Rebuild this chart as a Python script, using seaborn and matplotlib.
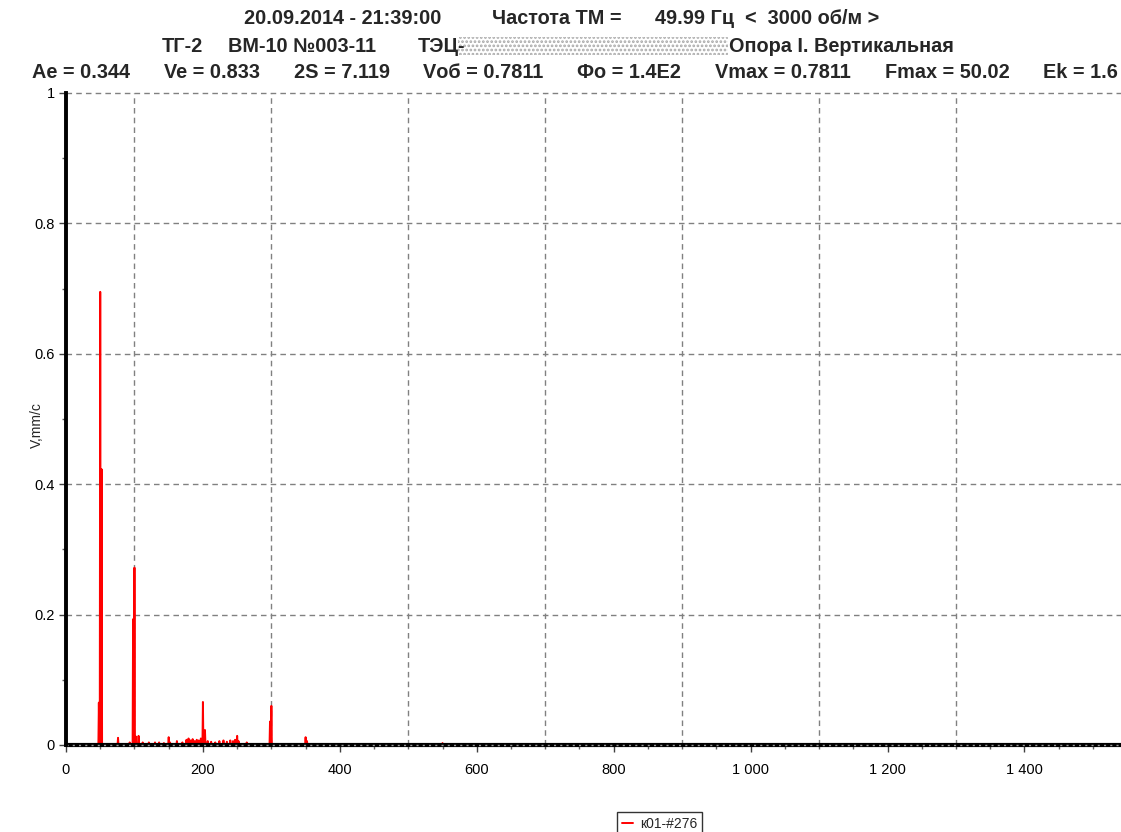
import matplotlib
matplotlib.use("Agg")
import matplotlib.pyplot as plt
import matplotlib.ticker as mticker
from matplotlib.patches import Rectangle
import seaborn as sns
import pandas as pd

# Spectral lines: frequency (Hz) and velocity amplitude (mm/s)
line_freq = [48, 50, 52, 76, 93, 98, 100, 102, 106, 112, 121, 130, 136, 143,
             150, 152, 162, 170, 176, 179, 182, 185, 188, 191, 194, 197,
             200, 203, 207, 212, 218, 224, 230, 235, 240, 244, 247, 250, 252,
             264, 298, 300, 350, 352, 550]
line_amp = [0.065, 0.695, 0.423, 0.011, 0.004, 0.193, 0.272, 0.013, 0.014, 0.004,
            0.004, 0.004, 0.004, 0.003,
            0.012, 0.004, 0.006, 0.004, 0.008, 0.010, 0.007, 0.009, 0.006, 0.008,
            0.007, 0.010,
            0.066, 0.023, 0.006, 0.005, 0.004, 0.006, 0.007, 0.005, 0.007, 0.006,
            0.008, 0.014, 0.006,
            0.004, 0.036, 0.060, 0.012, 0.006, 0.003]

x_major = [0, 200, 400, 600, 800, 1000, 1200, 1400]
x_labels = ["0", "200", "400", "600", "800", "1 000", "1 200", "1 400"]
x_grid = [100, 300, 500, 700, 900, 1100, 1300]
y_major = [0, 0.2, 0.4, 0.6, 0.8, 1.0]
y_labels = ["0", "0.2", "0.4", "0.6", "0.8", "1"]

series_name = "к01-#276"
# header segments (left pixel position for the first two rows)
header_1 = [("20.09.2014 - 21:39:00", 244), ("Частота ТМ =", 492),
            ("49.99 Гц  <  3000 об/м >", 655)]
header_2 = [("ТГ-2", 162), ("ВМ-10 №003-11", 228), ("ТЭЦ-", 418),
            ("Опора I. Вертикальная", 729)]
header_3 = ["Ae = 0.344", "Ve = 0.833", "2S = 7.119", "Vоб = 0.7811",
            "Фо = 1.4E2", "Vmax = 0.7811", "Fmax = 50.02", "Ek = 1.6"]

sns.set_style("white")
plt.rcParams["font.family"] = ["Liberation Sans", "DejaVu Sans"]
plt.rcParams["hatch.linewidth"] = 1.3

# Spike polyline: each spectral line rises from the baseline and returns to it
half = 0.7
xs, ys = [0.0], [0.0]
for f, a in zip(line_freq, line_amp):
    xs += [f - half, f, f + half]
    ys += [0.0, a, 0.0]
xs.append(1600.0)
ys.append(0.0)
spec = pd.DataFrame({"freq": xs, "amp": ys})

W, H = 1121, 832
fig = plt.figure(figsize=(W / 100, H / 100), dpi=100)
ax = fig.add_axes([66 / W, 1 - 745 / H, 1 - 66 / W, (745 - 93) / H])

sns.lineplot(data=spec, x="freq", y="amp", ax=ax, color="#ff0000",
             linewidth=1.4, estimator=None, sort=False, label=series_name,
             zorder=3)

ax.set_xlim(0, (W - 66) / 0.6846)
ax.set_ylim(0, 1)

# dashed grid
for gx in x_grid:
    ax.axvline(gx, color="#808080", linestyle=(0, (4, 3)), linewidth=1.0, zorder=1)
for gy in y_major[1:]:
    ax.axhline(gy, color="#808080", linestyle=(0, (4, 3)), linewidth=1.0,
               zorder=1, clip_on=False)

# baseline: heavy axis line with dashed overlay
ax.axhline(0, color="black", linewidth=3.0, zorder=4, clip_on=False)
ax.axhline(0, color="#9a9a9a", linestyle=(0, (1.5, 3)), linewidth=1.0, zorder=5,
           clip_on=False)

for side in ["top", "right", "bottom"]:
    ax.spines[side].set_visible(False)
ax.spines["left"].set_color("black")
ax.spines["left"].set_linewidth(2.8)
ax.spines["left"].set_zorder(6)

ax.xaxis.set_major_locator(mticker.FixedLocator(x_major))
ax.set_xticklabels(x_labels)
ax.xaxis.set_minor_locator(mticker.MultipleLocator(50))
ax.yaxis.set_major_locator(mticker.FixedLocator(y_major))
ax.set_yticklabels(y_labels)
ax.yaxis.set_minor_locator(mticker.MultipleLocator(0.1))

ax.tick_params(axis="both", which="major", direction="out", length=5,
               width=1, color="#404040", labelsize=10.5, labelcolor="black")
ax.tick_params(axis="both", which="minor", direction="out", length=3,
               width=1, color="#606060")
ax.tick_params(axis="x", which="major", pad=8)
ax.tick_params(axis="y", which="major", pad=3)
ax.tick_params(bottom=True, left=True, which="both")

ax.set_xlabel("")
ax.set_ylabel("V,mm/c", fontsize=10)
ax.yaxis.set_label_coords(-22 / (W - 66), 0.49)

# header lines
hfont = dict(fontsize=14.3, fontweight="bold", ha="left", va="center")
for rows, ypix in [(header_1, 19), (header_2, 46)]:
    for txt, xpix in rows:
        fig.text(xpix / W, 1 - ypix / H, txt, **hfont)

# third row: items spread evenly between the left and right margins
renderer = fig.canvas.get_renderer()
items = [fig.text(0, 1 - 72 / H, txt, **hfont) for txt in header_3]
widths = [t.get_window_extent(renderer).width for t in items]
left_px, right_px = 32, 1118
gap = (right_px - left_px - sum(widths)) / (len(items) - 1)
pos = left_px
for t, w in zip(items, widths):
    t.set_x(pos / W)
    pos += w + gap

fig.patches.append(Rectangle((458 / W, 1 - 55 / H), (728 - 458) / W, 18 / H,
                             transform=fig.transFigure, facecolor="white",
                             edgecolor="#a8a8a8", hatch="....", linewidth=0))

leg = ax.legend(loc="upper left", bbox_to_anchor=(617 / W, 1 - 812 / H),
                bbox_transform=fig.transFigure, frameon=True, fancybox=False,
                handlelength=0.8, handletextpad=0.5, borderpad=0.35,
                fontsize=10, borderaxespad=0)
leg.get_frame().set_edgecolor("black")
leg.get_frame().set_linewidth(1.0)

fig.savefig("out.png", dpi=100)
